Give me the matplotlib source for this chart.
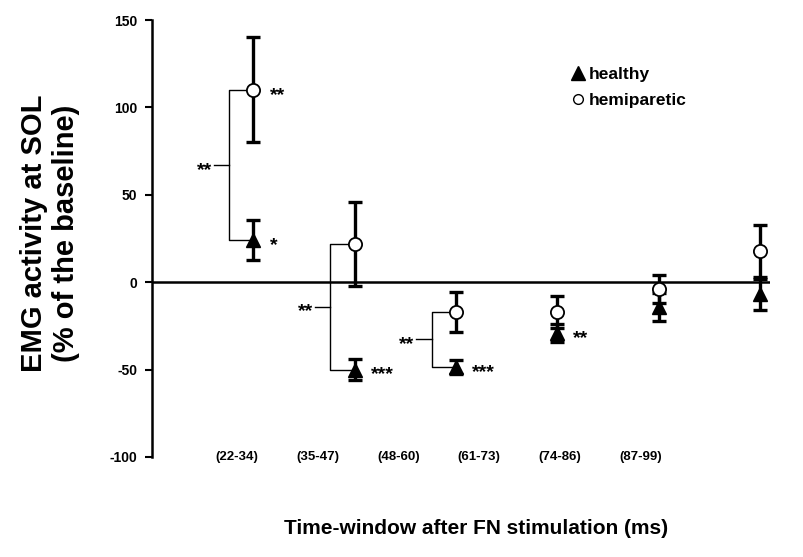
import numpy as np
import matplotlib.pyplot as plt
from matplotlib.lines import Line2D

plt.rcParams['font.family'] = ['Liberation Sans', 'DejaVu Sans']
plt.rcParams['font.weight'] = 'bold'
plt.rcParams['axes.unicode_minus'] = False

# --- data ---
windows = ['(22-34)', '(35-47)', '(48-60)', '(61-73)', '(74-86)', '(87-99)']
healthy_mean = [24, -50, -48.5, -29, -14, -7]
healthy_err = [11.5, 6, 4, 5, 8, 9]
hemi_mean = [110, 22, -17, -17, -4, 18]
hemi_err = [30, 24, 11.5, 9, 8, 15]

# significance marks
healthy_sig = ['*', '***', '***', '**', '', '']
hemi_sig = ['**', '', '', '', '', '']
between_sig = ['**', '**', '**', '', '', '']

x = np.arange(1, len(windows) + 1)

fig = plt.figure(figsize=(8.04, 5.57), dpi=100)
ax = fig.add_axes([152 / 804, 100 / 557, 618 / 804, 437 / 557])

ax.axhline(0, color='black', linewidth=1.8, zorder=1)

eb_kw = dict(fmt='none', ecolor='black', elinewidth=2.4, capsize=4.8,
             capthick=2.4, zorder=2)
ax.errorbar(x, healthy_mean, yerr=healthy_err, **eb_kw)
ax.errorbar(x, hemi_mean, yerr=hemi_err, **eb_kw)
ax.plot(x, healthy_mean, linestyle='none', marker='^', markersize=10.5,
        color='black', zorder=4)
ax.plot(x, hemi_mean, linestyle='none', marker='o', markersize=9.5,
        markerfacecolor='white', markeredgecolor='black',
        markeredgewidth=1.3, zorder=5)

# brackets comparing the two groups
for xi, hm, hl, s in zip(x, hemi_mean, healthy_mean, between_sig):
    if not s:
        continue
    xv = xi - 0.24
    mid = (hm + hl) / 2
    ax.plot([xi, xv, xv, xi], [hm, hm, hl, hl], color='black',
            linewidth=1.0, zorder=1.5)
    ax.plot([xv - 0.15, xv], [mid, mid], color='black', linewidth=1.0)
    ax.annotate(s, (xv - 0.17, mid), xytext=(0, -7), textcoords='offset points',
                ha='right', va='baseline', fontsize=14)

# stars next to the markers
for xi, m, s in zip(x, healthy_mean, healthy_sig):
    if s:
        ax.annotate(s, (xi + 0.16, m), xytext=(0, -7), textcoords='offset points',
                    ha='left', va='baseline', fontsize=14)
for xi, m, s in zip(x, hemi_mean, hemi_sig):
    if s:
        ax.annotate(s, (xi + 0.16, m), xytext=(0, -7), textcoords='offset points',
                    ha='left', va='baseline', fontsize=14)

# time-window labels (sit at the level of the -100 tick)
label_x = np.linspace(0.84, 4.82, len(windows))
for lx, lab in zip(label_x, windows):
    ax.text(lx, -100, lab, ha='center', va='center', fontsize=9.5)

ax.set_xlim(0, 6.1)
ax.set_ylim(-100, 150)
ax.set_yticks([-100, -50, 0, 50, 100, 150])
ax.set_xticks([])
for side in ['top', 'right', 'bottom']:
    ax.spines[side].set_visible(False)
ax.spines['left'].set_linewidth(1.8)
ax.tick_params(axis='y', length=5, width=1.5, pad=5.5, labelsize=10)
for t in ax.get_yticklabels():
    t.set_fontweight('bold')

handles = [Line2D([], [], linestyle='none', marker='^', markersize=10,
                  color='black'),
           Line2D([], [], linestyle='none', marker='o', markersize=7,
                  markerfacecolor='white', markeredgecolor='black')]
fig.legend(handles, ['healthy', 'hemiparetic'], loc='upper left',
           bbox_to_anchor=(563 / 804, 1 - 58 / 557), frameon=False,
           fontsize=12.5, handlelength=0.7, handletextpad=0.3,
           borderpad=0, labelspacing=0.65)

fig.text(50 / 804, 1 - 233 / 557, 'EMG activity at SOL\n(% of the baseline)',
         rotation=90, ha='center', va='center', multialignment='center',
         fontsize=21, fontweight='bold')
fig.text(476 / 804, 1 - 528 / 557, 'Time-window after FN stimulation (ms)',
         ha='center', va='center', fontsize=15, fontweight='bold')

fig.savefig('out.png', dpi=100)
